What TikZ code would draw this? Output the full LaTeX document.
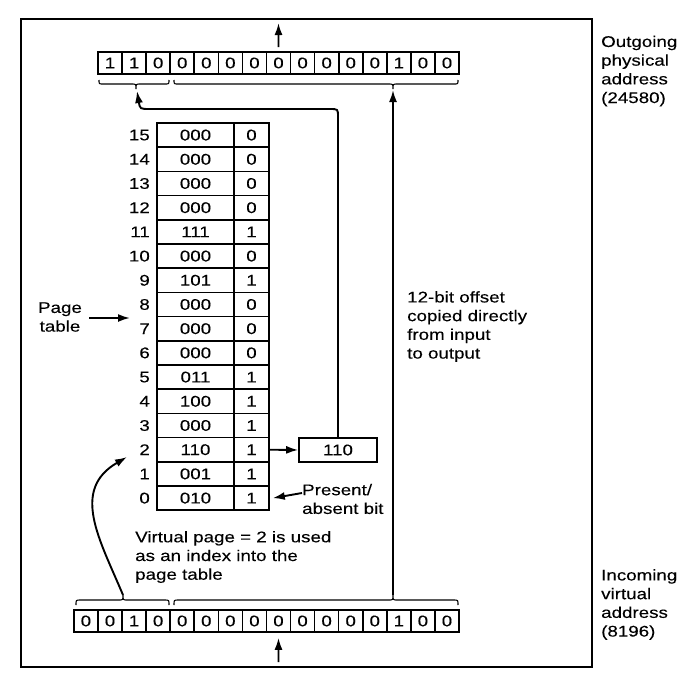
\documentclass[tikz,border=0pt]{standalone}
\usepackage{fontspec}
\setmainfont{Liberation Sans}[FakeStretch=1.21,FakeBold=0.15]
\usetikzlibrary{arrows.meta}
\begin{document}
\begin{tikzpicture}[x=1pt,y=-1pt,
  every node/.style={font=\fontsize{15.5}{18.7}\selectfont},
  cell/.style={draw,line width=1.6pt,minimum width=24.07pt,minimum height=22pt,inner sep=0pt},
  ptf/.style={draw,line width=1.6pt,minimum width=77pt,minimum height=24.2pt,inner sep=0pt},
  ptb/.style={draw,line width=1.6pt,minimum width=35pt,minimum height=24.2pt,inner sep=0pt},
  arr/.style={line width=1.9pt,-{Latex[length=12pt,width=8pt]}},
  brc/.style={line width=1.1pt},
  lbl/.style={align=left,inner sep=0pt}]
\useasboundingbox (0,0) rectangle (694,694);
\draw[line width=2.4pt] (21,19) rectangle (592,667);

% outgoing physical address
\foreach \b [count=\k] in {1,1,0,0,0,0,0,0,0,0,0,0,1,0,0}
  \node[cell] (t\k) at ({98+24.07*(\k-0.5)},63) {\b};
% incoming virtual address
\foreach \b [count=\k] in {0,0,1,0,0,0,0,0,0,0,0,0,0,1,0,0}
  \node[cell] (b\k) at ({73.9+24.07*(\k-0.5)},621) {\b};

% page table
\foreach \i/\f/\p in {15/000/0,14/000/0,13/000/0,12/000/0,11/111/1,10/000/0,9/101/1,8/000/0,7/000/0,6/000/0,5/011/1,4/100/1,3/000/1,2/110/1,1/001/1,0/010/1}
{
  \node[ptf] (pf\i) at (195.5,{123+(15-\i+0.5)*24.2}) {\f};
  \node[ptb] (pb\i) at (251.5,{123+(15-\i+0.5)*24.2}) {\p};
  \node[anchor=east,inner sep=0pt] (pi\i) at (150,{123+(15-\i+0.5)*24.2}) {\i};
}

\node[ptf,minimum width=78pt,minimum height=24pt] (frm) at (338,450) {110};
\draw[arr] (pb2.east) -- (frm.west);

% braces under the output address
\draw[brc] (99,80) .. controls (99,84) .. (103,84) -- (132,84) .. controls (136,84) .. (136,89) .. controls (136,84) .. (140,84) -- (165,84) .. controls (169,84) .. (169,80);
\draw[brc] (174,80) .. controls (174,84) .. (178,84) -- (389,84) .. controls (393,84) .. (393,89) .. controls (393,84) .. (397,84) -- (454,84) .. controls (458,84) .. (458,80);
\coordinate (tb1) at (137,91);
\coordinate (tb2) at (393,90);
% braces over the input address
\draw[brc] (76,605) .. controls (76,600) .. (80,600) -- (119,600) .. controls (123,600) .. (123,595) .. controls (123,600) .. (127,600) -- (165,600) .. controls (169,600) .. (169,605);
\draw[brc] (174,605) .. controls (174,600) .. (178,600) -- (389,600) .. controls (393,600) .. (393,595) .. controls (393,600) .. (397,600) -- (454,600) .. controls (458,600) .. (458,605);
\coordinate (bb1) at (123,595);
\coordinate (bb2) at (393,595);

% connectors
\draw[arr] (frm.north) -- (338,117) .. controls (338,109) .. (330,109) -- (150,109) .. controls (140,109) .. (tb1);
\draw[arr] (bb2) -- (tb2);
\coordinate (vtip) at (127,457);
\draw[arr] (bb1) .. controls (100,540) and (70,490) .. (vtip);

\coordinate (outp) at (278.5,23);
\draw[arr] ([yshift=4pt]t8.north) -- (outp);
\coordinate (inp) at (278.5,662);
\draw[arr] (inp) -- ([yshift=-5pt]b9.south);

% labels
\node[align=center,inner sep=0pt] (ptl) at (60,317) {Page\\table};
\coordinate (ptt) at (130,318);
\draw[arr] ([xshift=7pt,yshift=-1pt]ptl.east) -- (ptt);

\node[lbl,anchor=west] (pa) at (302,499) {Present/\\absent bit};
\draw[arr] ([yshift=6pt]pa.west) -- ([xshift=3pt]pb0.east);

\node[lbl,anchor=west] (vp) at (135,557) {Virtual page = 2 is used\\as an index into the\\page table};
\node[lbl,anchor=west] (off) at (407,326.5) {12-bit offset\\copied directly\\from input\\to output};
\node[lbl,anchor=west] (oga) at (601,71) {Outgoing\\physical\\address\\(24580)};
\node[lbl,anchor=west] (iva) at (601,604.5) {Incoming\\virtual\\address\\(8196)};
\end{tikzpicture}
\end{document}
